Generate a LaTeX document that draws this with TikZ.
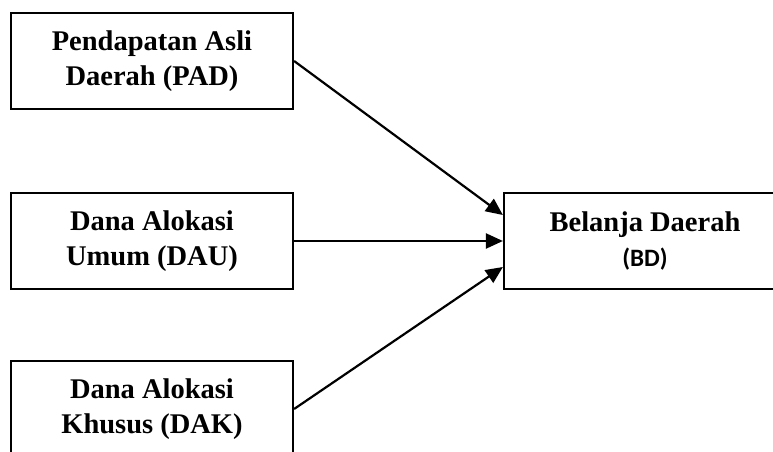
\documentclass[tikz,border=0pt]{standalone}
\usepackage{fontspec}
\setmainfont{Liberation Serif}
\newfontfamily\carlito{Carlito}
\usetikzlibrary{arrows.meta,positioning}
\tikzstyle{varbox}=[rectangle,draw=black,line width=2.2pt,minimum width=282pt,
minimum height=96pt,inner sep=3pt,align=center,
font=\fontsize{28.5}{35}\selectfont\bfseries]

\begin{document}
\begin{tikzpicture}[x=1pt,y=-1pt,>={Triangle[length=17pt,width=15pt]},line width=2.2pt]
    \clip (0,0) rectangle (773,452);
    \useasboundingbox (0,0) rectangle (773,452);

    \node[varbox] (pad) at (152,61) {Pendapatan Asli\\Daerah (PAD)};
    \node[varbox] (dau) at (152,241) {Dana Alokasi\\Umum (DAU)};
    \node[varbox] (dak) at (152,409) {Dana Alokasi\\Khusus (DAK)};
    \node[varbox] (bd) at (645,241) {Belanja Daerah\\{\carlito\fontsize{25}{35}\selectfont(BD)}};

    \draw[->] (pad.east) -- ([yshift=26pt]bd.west);
    \draw[->] (dau.east) -- (bd.west);
    \draw[->] (dak.east) -- ([yshift=-26pt]bd.west);
  \end{tikzpicture}
\end{document}
